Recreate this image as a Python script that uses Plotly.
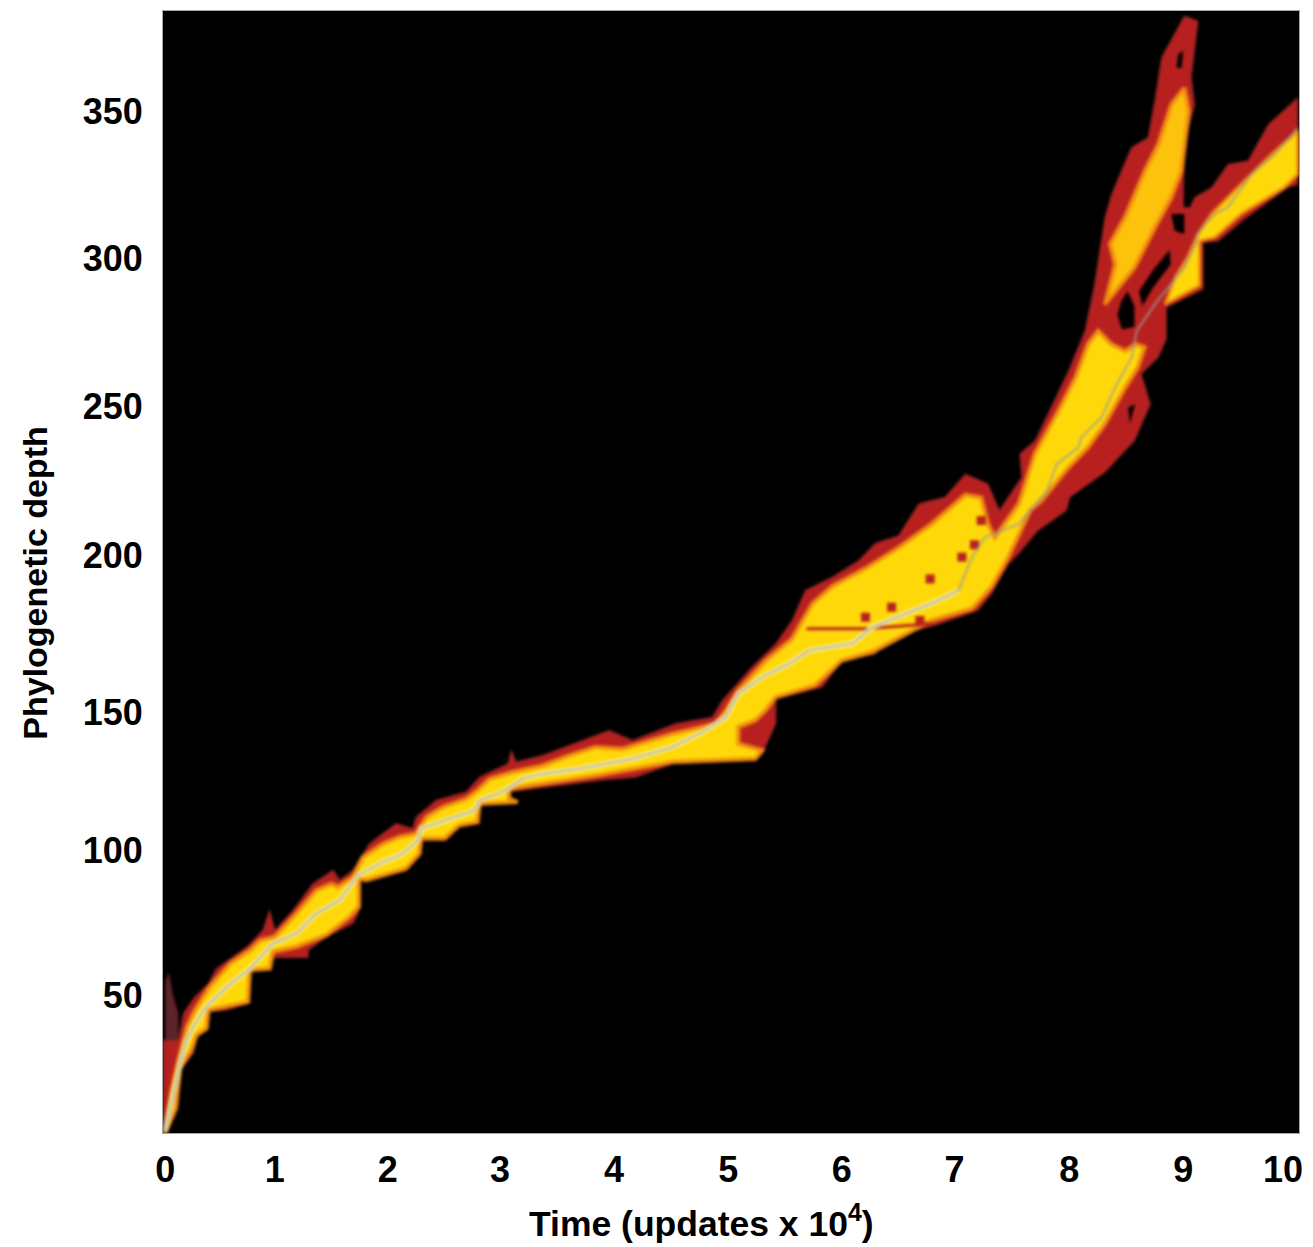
import plotly.graph_objects as go

# Time (x 10^4 updates) and phylogenetic depth
hull_x = [0.0,0.0,0.135,0.18,0.28,0.40,0.47,0.74,0.88,0.94,0.985,1.146,1.32,1.50,1.557,1.674,1.82,2.055,2.20,2.23,2.407,2.67,2.79,3.04,3.07,3.11,3.345,3.58,
          3.755,3.93,4.137,4.518,4.84,4.93,5.19,5.40,5.544,5.66,5.896,6.13,6.277,6.48,6.66,6.89,7.07,7.27,7.37,
          7.567,7.55,7.684,7.77,7.98,8.125,8.21,8.30,8.36,8.446,8.535,8.68,8.74,8.80,8.915,9.0,9.12,9.06,9.09,9.0,8.99,9.05,9.09,9.24,9.385,9.56,9.74,10.0,
          10.0,9.91,9.53,9.30,9.165,9.165,8.84,8.84,8.77,8.62,8.70,8.56,8.30,7.99,7.96,7.71,7.54,
          7.45,7.30,7.18,6.80,6.39,6.28,5.98,5.81,5.40,5.40,5.28,5.22,4.49,4.17,3.84,3.26,3.05,3.05,
          3.125,2.79,2.79,2.61,2.495,2.275,2.275,2.14,1.79,1.72,1.72,1.674,1.44,1.28,1.28,0.97,0.956,0.765,0.75,0.56,0.40,0.384,0.296,0.267,0.15,0.12,0.018]
hull_y = [3.9,34.9,34.9,44,49.6,54.1,59.2,66.6,72.2,79,72.2,79,88,92.6,89.2,92.6,101.6,108.4,106.7,110.6,116.3,119.1,124.2,128.7,133.2,129.3,131.5,134.9,
          137.7,140,136.6,142.3,144.5,150.2,161.5,169.4,177.3,187.5,192,197.6,203.5,206,216.9,219.1,227,223.6,214.6,
          225.9,233.8,238.3,245.1,262,275.6,291.4,314,321.9,329.8,337.8,341.1,353.6,368.3,376.2,382.4,380.7,361.5,352.5,338.9,317.4,317.4,320.8,324.2,332.1,333.2,345.6,354.7,
          325.3,324.2,313.5,306.1,305.5,289.7,283.5,272.8,266.6,260.9,250.7,238.3,227.6,219.1,214.6,207.8,200,
          196.5,186.3,180.7,175.6,171.6,166,163.7,154.7,150.7,142.3,132.1,129.8,128.7,124.2,123,120.2,119.1,116.3,
          115.7,114.6,108.4,107.2,102.7,102.7,98.2,92.6,89.2,89.2,77.9,74.5,70,65.4,62.9,62.9,59.2,58.1,47.4,45.1,44.5,38.3,36,30.4,24.8,11.2,3.3]

dim_x = [0.02,0.02,0.05,0.09,0.135,0.135]
dim_y = [34.9,55,58,50,44,34.9]

core_x = [0.02,0.076,0.15,0.21,0.28,0.41,0.59,0.765,0.853,0.985,1.146,1.35,1.483,1.54,1.674,1.76,1.94,2.08,2.23,2.32,2.465,2.67,2.77,2.876,3.08,3.345,3.58,
          3.81,4.05,4.49,4.87,4.96,5.07,5.31,5.54,5.72,5.90,6.19,6.48,6.77,7.07,7.21,7.27,7.33,7.54,
          7.68,7.89,8.04,8.15,8.24,8.36,8.48,8.57,8.65,8.59,8.48,8.30,8.15,7.98,7.74,7.64,
          7.45,7.30,7.13,6.77,6.25,5.98,5.75,5.40,5.31,5.22,5.07,5.07,5.28,5.22,4.49,3.84,3.26,3.05,3.05,
          3.125,2.79,2.77,2.61,2.48,2.275,2.26,2.14,1.79,1.727,1.727,1.645,1.44,1.176,0.97,0.94,0.765,0.75,0.56,0.40,0.384,0.296,0.25,0.15,0.114,0.018]
core_y = [4.4,18,30.4,39.4,45.1,53,60.9,65.4,68.8,70,76.7,85.8,88,86.9,90.3,97,101.6,103.9,105,110.6,114,116.8,119.7,123.6,125.9,128.1,131.5,
          134.4,133.8,138.9,142.3,146.8,153.6,163.7,171,183,189,195,202,210,220,219,210,205.5,216.9,
          233.8,248.5,259.8,271.1,275.6,271,268.8,271.1,270,263.2,256.4,244,236,229.3,218,214.6,
          198.8,188.6,181.3,177.3,166.6,163.7,155.3,151.3,146.8,143.4,141.1,135.5,133.2,130.4,129.3,124.8,121.4,120.2,116.9,
          115.7,115.1,108.9,107.8,103.3,103.3,98.2,93.1,89.2,89.7,80.1,76.7,70.5,66.6,64.9,59.2,58.7,47.9,46.2,45.1,38.9,36.6,31.5,25.3,11.8,3.3]

upper_x = [9.0,9.04,8.975,8.885,8.74,8.56,8.30,8.39,8.344,8.475,8.65,8.77,8.885]
upper_y = [358.1,350.2,329.8,320.8,310.6,297,284.6,298.2,305,314,329.8,338.9,352.4]

right_x = [9.12,9.24,9.50,9.77,10.0,10.0,9.88,9.50,9.27,9.135,9.135,8.83,8.92,9.03]
right_y = [308.4,315.2,325.3,335.5,343.4,328.7,324.2,315.2,307.3,306.1,290.9,284.6,293.7,300.5]

gap1_x = [8.445,8.50,8.56,8.56,8.45,8.41]
gap1_y = [285.8,289,284,277,276,281]
gap2_x = [8.885,9.0,9.0,8.915]
gap2_y = [315.2,315.2,308.4,309.5]
gap3_x = [8.505,8.565,8.52]
gap3_y = [249.6,250.7,244]
gap4_x = [8.945,8.99,8.975,8.93]
gap4_y = [369.4,370.5,364.8,364.8]
gap5_x = [8.60,8.72,8.87,8.88,8.72,8.63]
gap5_y = [289,296,303,298.2,290,284]

streak_x = [5.67,6.19,6.77]
streak_y = [174.5,174.5,176.2]
blob_x = [6.42,6.76,7.04,7.21,6.19,6.67,7.15]
blob_y = [181.8,191.4,198.8,211.2,178.4,177.3,203]

lineage_x = [0.018,0.09,0.15,0.21,0.267,0.37,0.56,0.765,0.97,1.176,1.35,1.557,1.72,1.91,2.114,2.245,2.275,2.495,2.744,2.79,2.99,3.17,3.345,
             3.67,4.137,4.49,4.78,4.96,5.07,5.28,5.515,5.69,6.07,6.25,6.83,7.01,7.13,7.24,7.54,
             7.79,7.875,8.066,8.09,8.27,8.39,8.535,8.58,8.74,9.0,9.10,9.12,9.27,9.38,9.53,9.59,9.80,10.0]
lineage_y = [3.9,15.7,27,34.9,39.4,45.7,53,59.2,67.7,71.1,77.9,82.4,90.9,94.8,98.2,102.7,106.7,109.5,112.9,116.3,119.1,123.6,125.3,
             127,130.4,134.4,140,144.5,152.4,158.1,162.6,167.1,169.4,175,184.1,187.5,198.8,205.5,210,
             221.4,230.4,236,239.4,246.2,256.4,266.6,275.6,284.6,297,305,308.9,315.2,317.4,325.3,328.7,335.5,344.5]

x_tick_pos = [0.02,0.985,1.98,2.97,3.975,4.98,5.98,6.975,7.985,8.99,9.87]
x_tick_text = ["0","1","2","3","4","5","6","7","8","9","10"]
y_tick_pos = [50,99.3,146,199.3,250,300,350]
y_tick_text = ["50","100","150","200","250","300","350"]
x_title = "Time (updates x 10<sup>4</sup>)"
y_title = "Phylogenetic depth"

RED = "#b8201f"
ORANGE = "#f08c10"
YELLOW = "#ffd80a"


def poly(xs, ys, fill, line=None, width=0):
    return go.Scatter(x=xs + xs[:1], y=ys + ys[:1], mode="lines", fill="toself", fillcolor=fill,
                      line=dict(color=line or fill, width=width), hoverinfo="skip", showlegend=False)


fig = go.Figure()
fig.add_trace(poly(dim_x, dim_y, "#5e2429"))
fig.add_trace(poly(hull_x, hull_y, RED, "#7a2a2a", 1))
for gx, gy in [(gap1_x, gap1_y), (gap2_x, gap2_y), (gap3_x, gap3_y), (gap4_x, gap4_y), (gap5_x, gap5_y)]:
    fig.add_trace(poly(gx, gy, "#000000", "#000000", 0))
fig.add_trace(poly(core_x, core_y, YELLOW, ORANGE, 4))
fig.add_trace(poly(upper_x, upper_y, "#fcc20c", ORANGE, 4))
fig.add_trace(poly(right_x, right_y, YELLOW, ORANGE, 3))
fig.add_trace(go.Scatter(x=streak_x, y=streak_y, mode="lines", line=dict(color=RED, width=3),
                         hoverinfo="skip", showlegend=False))
fig.add_trace(go.Scatter(x=blob_x, y=blob_y, mode="markers",
                         marker=dict(color=RED, size=9, symbol="square"), hoverinfo="skip", showlegend=False))
fig.add_trace(go.Scatter(x=lineage_x[:36], y=lineage_y[:36], mode="lines", line=dict(color="#fff7b0", width=5),
                         hoverinfo="skip", showlegend=False))
fig.add_trace(go.Scatter(x=lineage_x, y=lineage_y, mode="lines", line=dict(color="#9c9c94", width=1.6),
                         hoverinfo="skip", showlegend=False))

font = dict(family="Liberation Sans", size=36, color="#000000", weight=700)
fig.update_layout(
    width=1313, height=1247, margin=dict(l=163, r=12, t=10, b=114),
    paper_bgcolor="#ffffff", plot_bgcolor="#000000", showlegend=False, font=font,
    xaxis=dict(range=[0, 10.01], tickmode="array", tickvals=x_tick_pos, ticktext=x_tick_text,
               ticks="outside", ticklen=5, tickcolor="rgba(0,0,0,0)", tickfont=font, showgrid=False, zeroline=False,
               showline=True, mirror=True, linecolor="#a8a8a8", linewidth=1),
    yaxis=dict(range=[3.4, 384.1], tickmode="array", tickvals=y_tick_pos, ticktext=y_tick_text,
               ticks="outside", ticklen=12, tickcolor="rgba(0,0,0,0)", tickfont=font, showgrid=False, zeroline=False,
               showline=True, mirror=True, linecolor="#a8a8a8", linewidth=1),
    annotations=[
        dict(text=x_title, xref="paper", yref="paper", x=(702 - 163) / 1138, y=-(1222 - 1133) / 1123,
             xanchor="center", yanchor="middle", showarrow=False, font=dict(family="Liberation Sans", size=35.5, color="#000000", weight=700)),
        dict(text=y_title, xref="paper", yref="paper", x=-(163 - 35) / 1138, y=(1133 - 582) / 1123, textangle=-90,
             xanchor="center", yanchor="middle", showarrow=False, font=dict(family="Liberation Sans", size=34, color="#000000", weight=700)),
    ],
)

post = """
document.body.style.margin='0';
setTimeout(function(){
  var s=document.querySelector('.cartesianlayer .scatterlayer');
  if(s){s.style.filter='blur(1.5px)';}
},0);
"""
fig.write_html("out.html", post_script=post, config=dict(displayModeBar=False))
